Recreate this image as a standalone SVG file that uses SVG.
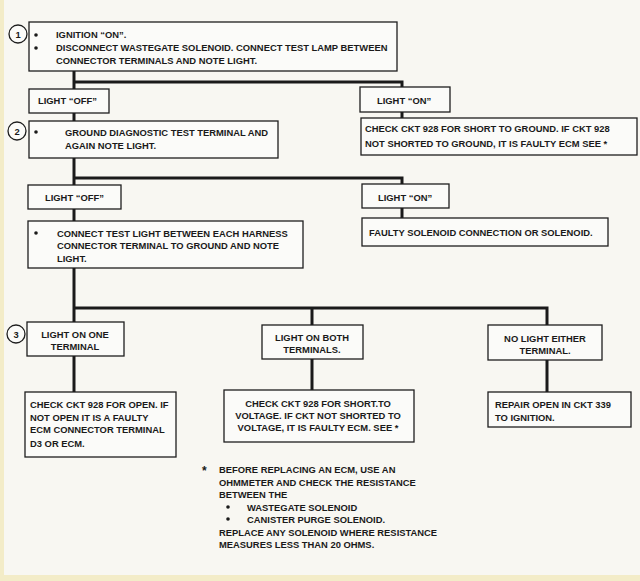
<svg xmlns="http://www.w3.org/2000/svg" width="640" height="581" viewBox="0 0 640 581">
<style>
.bg{fill:#f8f7f2}
.box{fill:#fbfbf9;stroke:#1e1e1e;stroke-width:1.3}
.ln{stroke:#1a1a1a;stroke-width:3;fill:none}
.t{font-family:"Liberation Sans",Arial,sans-serif;font-weight:bold;font-size:9.4px;fill:#1a1a1a}
.c{text-anchor:middle}
.circ{fill:#fbfbf9;stroke:#1e1e1e;stroke-width:1.3}
.ct{font-family:"Liberation Sans",Arial,sans-serif;font-weight:bold;font-size:9.4px;fill:#1a1a1a;text-anchor:middle}
</style>
<rect class="bg" x="0" y="0" width="640" height="581"/>
<rect x="0" y="0" width="4" height="581" fill="#f3ecc8"/>
<rect x="0" y="575" width="640" height="6" fill="#f3ecc8"/>
<g id="connectors">
<path class="ln" d="M74,71 V392"/>
<path class="ln" d="M74,82 H402 V118"/>
<path class="ln" d="M74,178 H402 V218"/>
<path class="ln" d="M74,308 H547 V392"/>
<path class="ln" d="M312,308 V390"/>
</g>
<g id="step1">
<circle class="circ" cx="18" cy="34" r="9"/>
<text class="ct" x="18" y="37.5">1</text>
<rect class="box" x="29" y="22" width="368" height="49"/>
<circle cx="36" cy="35" r="1.8" fill="#1a1a1a"/>
<circle cx="36" cy="48" r="1.8" fill="#1a1a1a"/>
<text class="t" x="56" y="38">IGNITION “ON”.</text>
<text class="t" x="56" y="51">DISCONNECT WASTEGATE SOLENOID. CONNECT TEST LAMP BETWEEN</text>
<text class="t" x="56" y="64">CONNECTOR TERMINALS AND NOTE LIGHT.</text>
</g>
<g id="off1">
<rect class="box" x="29" y="89" width="80" height="24"/>
<text class="t" x="38" y="104">LIGHT “OFF”</text>
</g>
<g id="on1">
<rect class="box" x="360" y="87" width="90" height="25"/>
<text class="t" x="377" y="104">LIGHT “ON”</text>
</g>
<g id="short-ground">
<rect class="box" x="361" y="118" width="276" height="37"/>
<text class="t" x="365" y="132">CHECK CKT 928 FOR SHORT TO GROUND. IF CKT 928</text>
<text class="t" x="365" y="147">NOT SHORTED TO GROUND,  IT IS FAULTY ECM SEE  *</text>
</g>
<g id="step2">
<circle class="circ" cx="17" cy="131" r="9"/>
<text class="ct" x="17" y="134.5">2</text>
<rect class="box" x="29" y="121" width="249" height="37"/>
<circle cx="36" cy="132" r="1.8" fill="#1a1a1a"/>
<text class="t" x="65" y="136">GROUND DIAGNOSTIC TEST TERMINAL AND</text>
<text class="t" x="65" y="149">AGAIN NOTE LIGHT.</text>
</g>
<g id="off2">
<rect class="box" x="28" y="185" width="93" height="24"/>
<text class="t" x="45" y="201">LIGHT “OFF”</text>
</g>
<g id="on2">
<rect class="box" x="362" y="184" width="87" height="24"/>
<text class="t" x="378" y="201">LIGHT “ON”</text>
</g>
<g id="faulty-solenoid">
<rect class="box" x="362" y="218" width="246" height="28"/>
<text class="t" x="369" y="236">FAULTY SOLENOID CONNECTION OR SOLENOID.</text>
</g>
<g id="connect-test">
<rect class="box" x="28" y="221" width="275" height="47"/>
<circle cx="36" cy="233" r="1.8" fill="#1a1a1a"/>
<text class="t" x="57" y="237">CONNECT TEST LIGHT BETWEEN EACH HARNESS</text>
<text class="t" x="57" y="249">CONNECTOR TERMINAL TO GROUND AND NOTE</text>
<text class="t" x="57" y="262">LIGHT.</text>
</g>
<g id="step3">
<circle class="circ" cx="16" cy="334" r="9"/>
<text class="ct" x="16" y="337.5">3</text>
<rect class="box" x="27" y="322" width="97" height="34"/>
<text class="t c" x="75" y="338">LIGHT ON ONE</text>
<text class="t c" x="75" y="350">TERMINAL</text>
</g>
<g id="both">
<rect class="box" x="262" y="325" width="101" height="34"/>
<text class="t c" x="312" y="341">LIGHT ON BOTH</text>
<text class="t c" x="312" y="353">TERMINALS.</text>
</g>
<g id="none">
<rect class="box" x="488" y="325" width="114" height="35"/>
<text class="t c" x="545" y="342">NO LIGHT EITHER</text>
<text class="t c" x="545" y="354">TERMINAL.</text>
</g>
<g id="check-open">
<rect class="box" x="25" y="392" width="151" height="65"/>
<text class="t" x="30" y="408">CHECK CKT 928 FOR OPEN. IF</text>
<text class="t" x="30" y="421">NOT OPEN IT IS A FAULTY</text>
<text class="t" x="30" y="433">ECM CONNECTOR TERMINAL</text>
<text class="t" x="30" y="447">D3 OR ECM.</text>
</g>
<g id="check-short-voltage">
<rect class="box" x="224" y="390" width="190" height="52"/>
<text class="t c" x="318" y="407">CHECK CKT 928 FOR SHORT.TO</text>
<text class="t c" x="318" y="419">VOLTAGE. IF CKT NOT SHORTED TO</text>
<text class="t c" x="318" y="431">VOLTAGE, IT IS FAULTY ECM. SEE  *</text>
</g>
<g id="repair">
<rect class="box" x="488" y="392" width="143" height="35"/>
<text class="t" x="495" y="408">REPAIR OPEN IN CKT 339</text>
<text class="t" x="495" y="421">TO IGNITION.</text>
</g>
<g id="footnote">
<text class="t" x="202" y="475" style="font-size:12px">*</text>
<text class="t" x="219" y="473">BEFORE REPLACING AN ECM, USE AN</text>
<text class="t" x="219" y="486">OHMMETER AND CHECK THE RESISTANCE</text>
<text class="t" x="219" y="498">BETWEEN THE</text>
<circle cx="228" cy="507" r="1.8" fill="#1a1a1a"/>
<text class="t" x="247" y="511">WASTEGATE SOLENOID</text>
<circle cx="228" cy="519" r="1.8" fill="#1a1a1a"/>
<text class="t" x="247" y="523">CANISTER PURGE SOLENOID.</text>
<text class="t" x="219" y="536">REPLACE ANY SOLENOID WHERE RESISTANCE</text>
<text class="t" x="219" y="548">MEASURES LESS THAN 20 OHMS.</text>
</g>
</svg>
